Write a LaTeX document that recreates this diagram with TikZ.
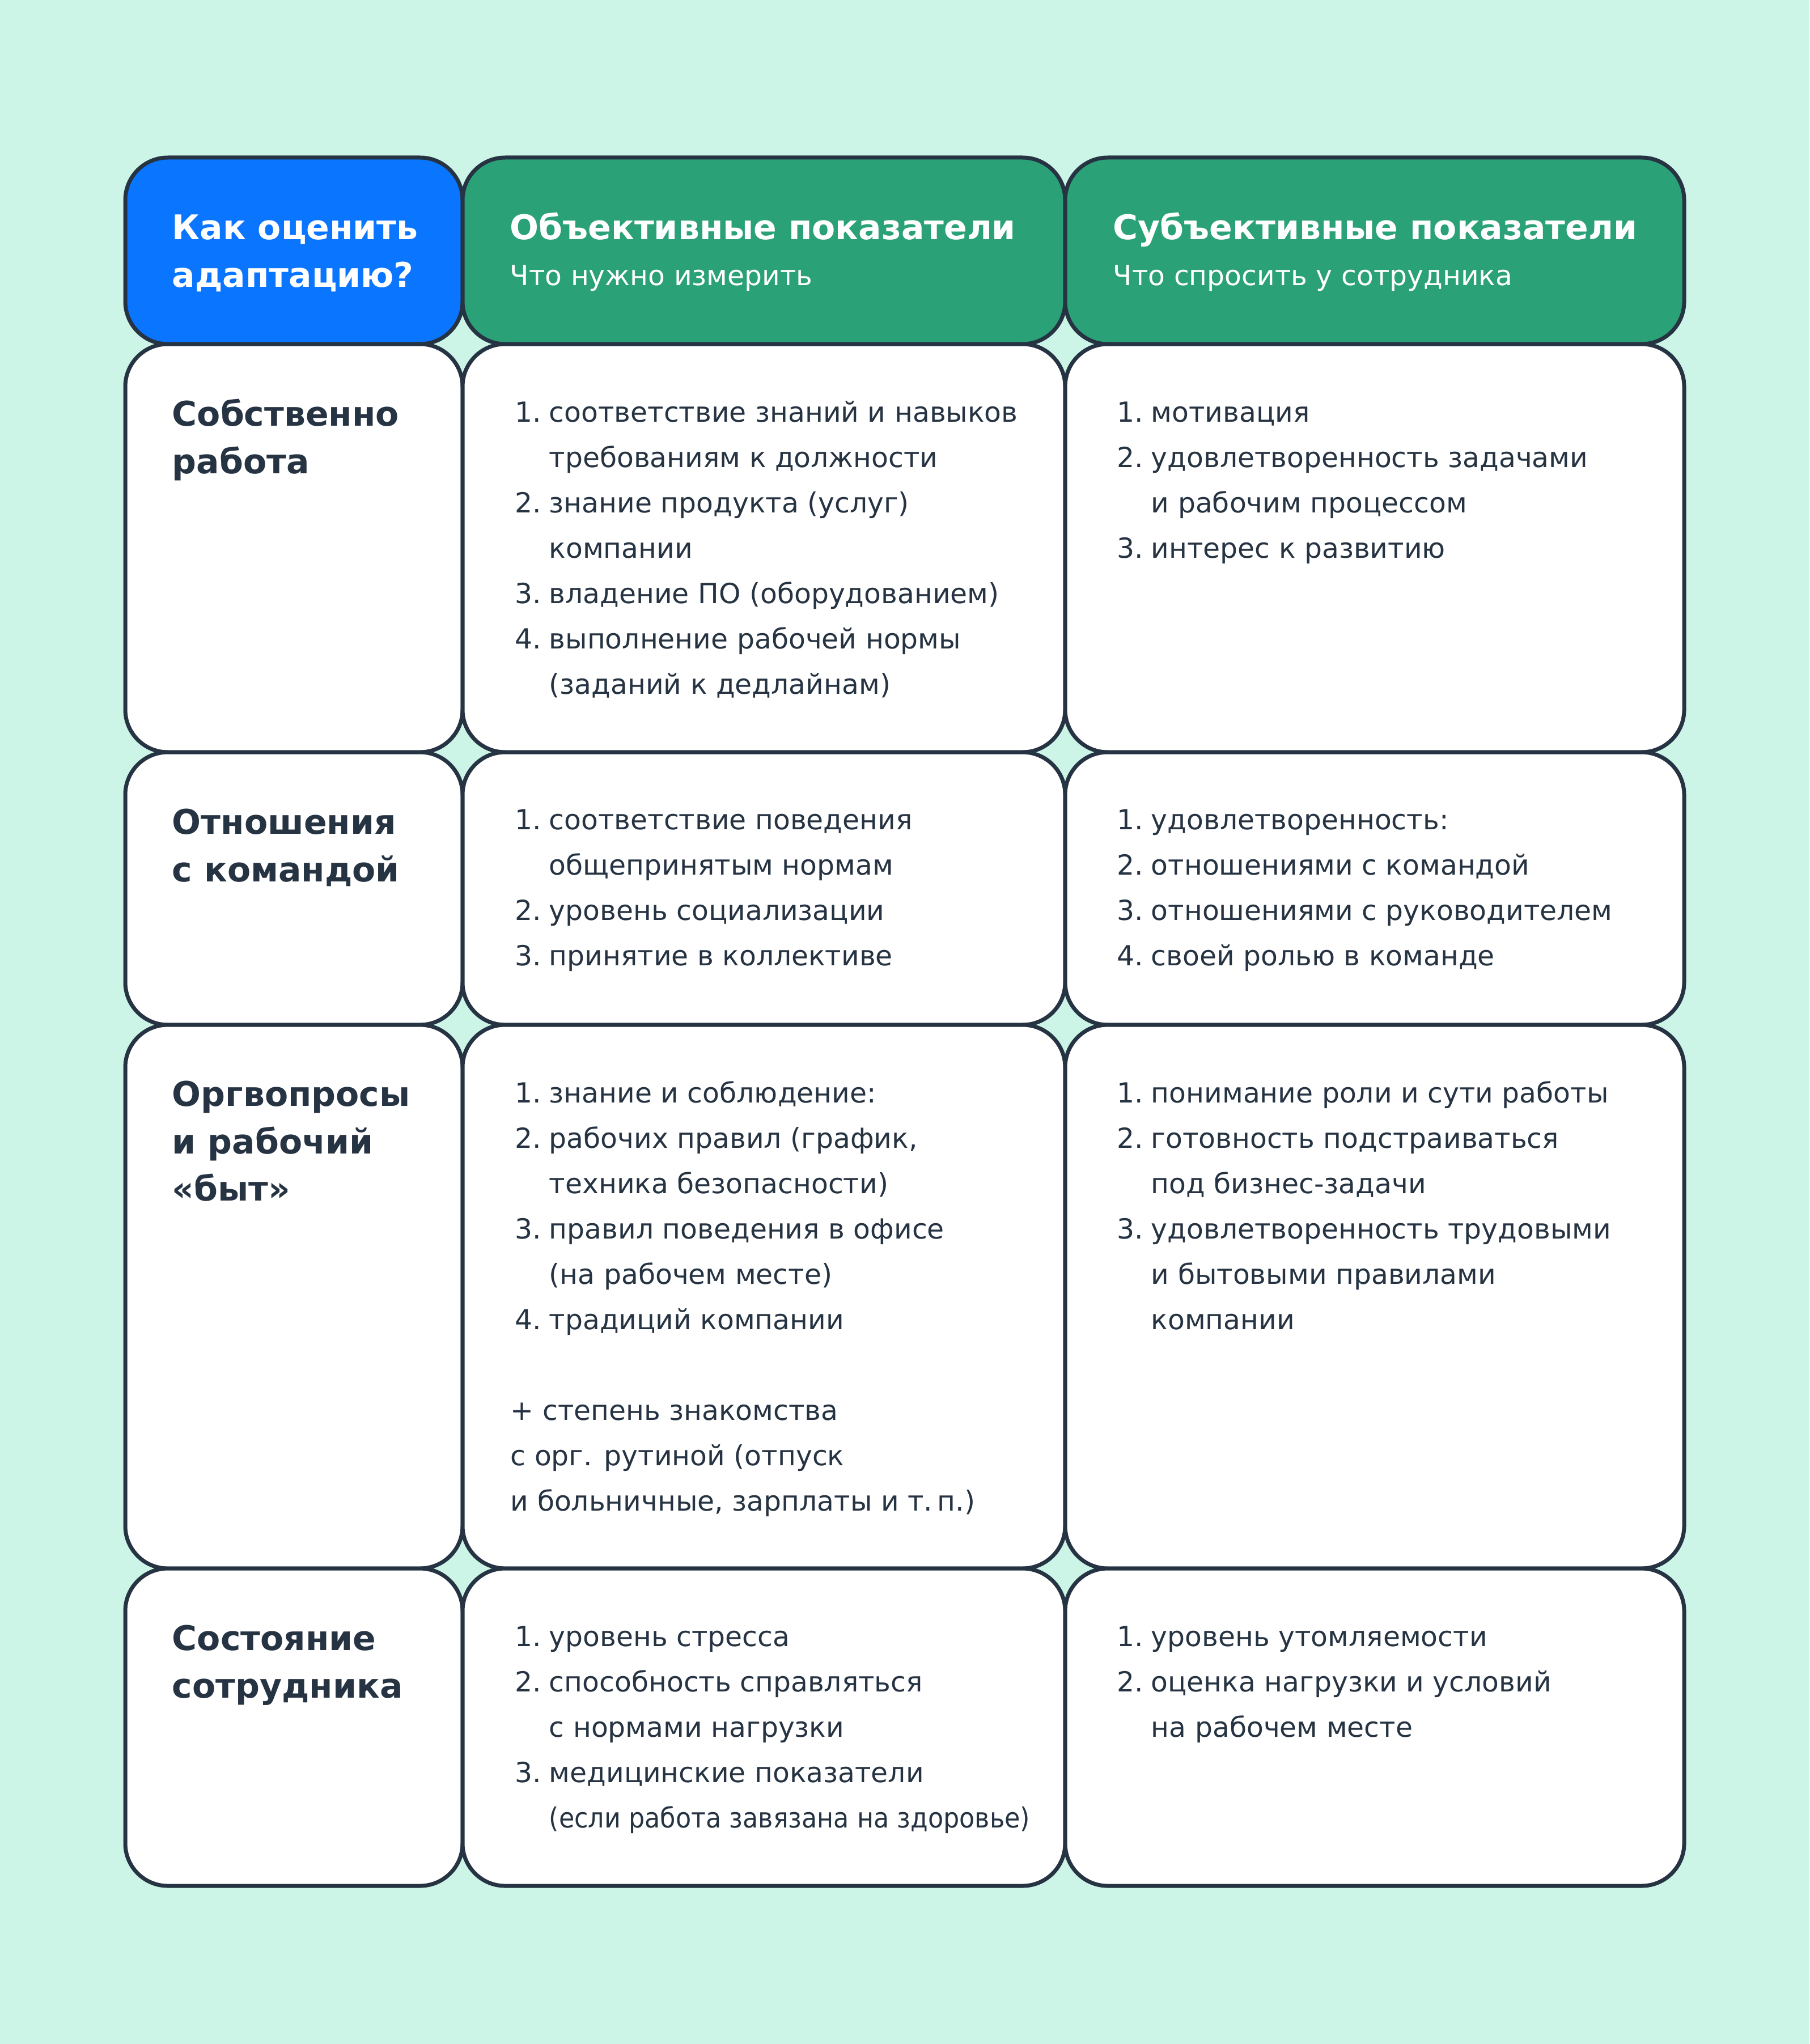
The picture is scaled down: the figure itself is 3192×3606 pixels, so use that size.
\documentclass[tikz,border=0pt]{standalone}
\usepackage{fontspec}
\setmainfont{DejaVu Sans}
\usepackage{graphicx}
\definecolor{bgmint}{HTML}{CCF5E8}
\definecolor{hblue}{HTML}{0A75FF}
\definecolor{hgreen}{HTML}{2AA177}
\definecolor{ink}{HTML}{263342}
\newcommand\nb[1]{\makebox[15pt][l]{#1}}
\tikzset{
  x=0.25pt, y=-0.25pt,
  cell/.style={draw=ink, line width=1.75pt, rounded corners=18.75pt},
  body/.style={anchor=base west, inner sep=0pt, text=ink, font=\fontsize{12.2}{14}\selectfont},
  rowhead/.style={anchor=base west, inner sep=0pt, text=ink, font=\fontsize{15}{18}\selectfont\bfseries},
  colhead/.style={anchor=base west, inner sep=0pt, text=white, font=\fontsize{15}{18}\selectfont\bfseries},
  colsub/.style={anchor=base west, inner sep=0pt, text=white, font=\fontsize{12.2}{14}\selectfont},
}
\begin{document}
\begin{tikzpicture}
\fill[bgmint] (0,0) rectangle (3192,3606);
\useasboundingbox (0,0) rectangle (3192,3606);
% header row
\draw[cell, fill=hblue] (221,278) rectangle (816,607);
\draw[cell, fill=hgreen] (816,278) rectangle (1879,607);
\draw[cell, fill=hgreen] (1879,278) rectangle (2971,607);
% body rows
\foreach \ya/\yb in {607/1327, 1327/1808, 1808/2767, 2767/3327}{
  \draw[cell, fill=white] (221,\ya) rectangle (816,\yb);
  \draw[cell, fill=white] (816,\ya) rectangle (1879,\yb);
  \draw[cell, fill=white] (1879,\ya) rectangle (2971,\yb);
}
% header texts
\node[colhead] (h1a) at (303,423) {Как оценить};
\node[colhead] (h1b) at (303,507) {адаптацию?};
\node[colhead] (h2) at (899,423) {Объективные показатели};
\node[colsub] (h2s) at (899,503) {Что нужно измерить};
\node[colhead] (h3) at (1963,423) {Субъективные показатели};
\node[colsub] (h3s) at (1963,503) {Что спросить у сотрудника};
% row 1
\node[rowhead] (r1a) at (303,751) {Собственно};
\node[rowhead] (r1b) at (303,835) {работа};
\node[body] (o1a) at (908,744) {\nb{1.}соответствие знаний и навыков};
\node[body] (o1b) at (968,824) {требованиям к должности};
\node[body] (o1c) at (908,904) {\nb{2.}знание продукта (услуг)};
\node[body] (o1d) at (968,984) {компании};
\node[body] (o1e) at (908,1064) {\nb{3.}владение ПО (оборудованием)};
\node[body] (o1f) at (908,1144) {\nb{4.}выполнение рабочей нормы};
\node[body] (o1g) at (968,1224) {(заданий к дедлайнам)};
\node[body] (s1a) at (1970,744) {\nb{1.}мотивация};
\node[body] (s1b) at (1970,824) {\nb{2.}удовлетворенность задачами};
\node[body] (s1c) at (2030,904) {и рабочим процессом};
\node[body] (s1d) at (1970,984) {\nb{3.}интерес к развитию};
% row 2
\node[rowhead] (r2a) at (303,1471) {Отношения};
\node[rowhead] (r2b) at (303,1555) {с командой};
\node[body] (o2a) at (908,1463) {\nb{1.}соответствие поведения};
\node[body] (o2b) at (968,1543) {общепринятым нормам};
\node[body] (o2c) at (908,1623) {\nb{2.}уровень социализации};
\node[body] (o2d) at (908,1703) {\nb{3.}принятие в коллективе};
\node[body] (s2a) at (1970,1463) {\nb{1.}удовлетворенность:};
\node[body] (s2b) at (1970,1543) {\nb{2.}отношениями с командой};
\node[body] (s2c) at (1970,1623) {\nb{3.}отношениями с руководителем};
\node[body] (s2d) at (1970,1703) {\nb{4.}своей ролью в команде};
% row 3
\node[rowhead] (r3a) at (303,1951) {Оргвопросы};
\node[rowhead] (r3b) at (303,2035) {и рабочий};
\node[rowhead] (r3c) at (303,2118) {«быт»};
\node[body] (o3a) at (908,1945) {\nb{1.}знание и соблюдение:};
\node[body] (o3b) at (908,2025) {\nb{2.}рабочих правил (график,};
\node[body] (o3c) at (968,2105) {техника безопасности)};
\node[body] (o3d) at (908,2185) {\nb{3.}правил поведения в офисе};
\node[body] (o3e) at (968,2265) {(на рабочем месте)};
\node[body] (o3f) at (908,2345) {\nb{4.}традиций компании};
\node[body] (o3g) at (900,2505) {+ степень знакомства};
\node[body] (o3h) at (900,2585) {с орг. рутиной (отпуск};
\node[body] (o3i) at (900,2665) {и больничные, зарплаты и т.\,п.)};
\node[body] (s3a) at (1970,1945) {\nb{1.}понимание роли и сути работы};
\node[body] (s3b) at (1970,2025) {\nb{2.}готовность подстраиваться};
\node[body] (s3c) at (2030,2105) {под бизнес-задачи};
\node[body] (s3d) at (1970,2185) {\nb{3.}удовлетворенность трудовыми};
\node[body] (s3e) at (2030,2265) {и бытовыми правилами};
\node[body] (s3f) at (2030,2345) {компании};
% row 4
\node[rowhead] (r4a) at (303,2911) {Состояние};
\node[rowhead] (r4b) at (303,2995) {сотрудника};
\node[body] (o4a) at (908,2904) {\nb{1.}уровень стресса};
\node[body] (o4b) at (908,2984) {\nb{2.}способность справляться};
\node[body] (o4c) at (968,3064) {с нормами нагрузки};
\node[body] (o4d) at (908,3144) {\nb{3.}медицинские показатели};
\node[body] (o4e) at (968,3224) {\resizebox{212pt}{\height}{(если работа завязана на здоровье)}};
\node[body] (s4a) at (1970,2904) {\nb{1.}уровень утомляемости};
\node[body] (s4b) at (1970,2984) {\nb{2.}оценка нагрузки и условий};
\node[body] (s4c) at (2030,3064) {на рабочем месте};
\end{tikzpicture}
\end{document}
